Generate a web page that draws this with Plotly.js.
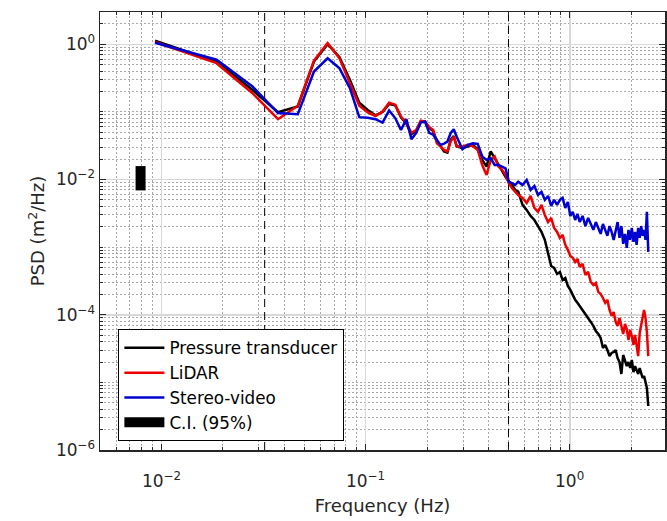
<!DOCTYPE html>
<html>
<head>
<meta charset="utf-8">
<script src="https://cdn.plot.ly/plotly-3.0.1.min.js"></script>
<style>html,body{margin:0;padding:0;background:#fff;}#chart{width:667px;height:521px;}</style>
</head>
<body>
<div id="chart"></div>
<script>
// Frequency (Hz)
const freq = [
  0.0093, 0.0186, 0.0279, 0.0372, 0.0465, 0.0558, 0.0651, 0.0744, 0.0837, 0.093,
  0.1023, 0.1116, 0.1209, 0.1302, 0.1395, 0.1488, 0.1581, 0.1674, 0.1767, 0.186,
  0.1953, 0.2046, 0.2139, 0.2232, 0.2325, 0.2418, 0.2511, 0.2604, 0.2697, 0.279,
  0.2976, 0.3162, 0.3348, 0.3534, 0.372, 0.3906, 0.4092, 0.4278, 0.4464, 0.465,
  0.4836, 0.5022, 0.5208, 0.5394, 0.558,
  0.5859, 0.6138, 0.6417, 0.6696, 0.6975, 0.7254, 0.7533, 0.7812, 0.8091, 0.837,
  0.8649, 0.8928, 0.9207, 0.9486, 0.9765, 1.0044, 1.0323, 1.0602, 1.0881, 1.116,
  1.1532, 1.1904, 1.2276, 1.2648, 1.302, 1.3392, 1.3764, 1.4136, 1.4508, 1.488,
  1.5252, 1.5624, 1.5996, 1.6368, 1.674, 1.7112, 1.7484, 1.7856, 1.8228, 1.86,
  1.8972, 1.9344, 1.9716, 2.0088, 2.046, 2.0832, 2.1204, 2.1576, 2.1948, 2.232,
  2.2692, 2.3064, 2.3436, 2.3808, 2.418
];

// PSD (m^2/Hz)
const pressure = [
  1.13, 0.555, 0.211, 0.099, 0.12, 0.555, 1.0, 0.645, 0.297, 0.137,
  0.107, 0.089, 0.100, 0.131, 0.125, 0.083, 0.067, 0.047, 0.053, 0.072,
  0.071, 0.058, 0.052, 0.036, 0.031, 0.026, 0.025, 0.0385, 0.044, 0.031,
  0.029, 0.031, 0.0325, 0.028, 0.0195, 0.0155, 0.026, 0.0207, 0.0165, 0.0139,
  0.011, 0.0093, 0.0083, 0.007, 0.0066,
  0.00421, 0.00355, 0.00289, 0.00252, 0.00205, 0.00168, 0.00128, 0.000767, 0.000527, 0.000493,
  0.000401, 0.00043, 0.000327, 0.00035, 0.000267, 0.000233, 0.00019, 0.000166, 0.00015, 0.000135,
  0.000118, 0.000103, 8.98e-5, 7.83e-5, 6.83e-5, 5.76e-5, 5.2e-5, 4.54e-5, 3.23e-5, 3.58e-5,
  3.01e-5, 2.45e-5, 2.72e-5, 2.81e-5, 3.01e-5, 2.29e-5, 2.0e-5, 1.33e-5, 2.54e-5, 2.14e-5,
  1.74e-5, 2.0e-5, 1.63e-5, 2.14e-5, 1.42e-5, 1.74e-5, 1.52e-5, 1.33e-5, 1.63e-5, 1.42e-5,
  1.16e-5, 1.24e-5, 9.5e-6, 8.3e-6, 4.47e-6
];

const lidar = [
  1.08, 0.525, 0.189, 0.078, 0.123, 0.574, 1.04, 0.62, 0.266, 0.123,
  0.098, 0.087, 0.101, 0.137, 0.127, 0.085, 0.068, 0.049, 0.054, 0.074,
  0.072, 0.060, 0.054, 0.0344, 0.0308, 0.0274, 0.026, 0.0364, 0.043, 0.0308,
  0.0308, 0.0325, 0.031, 0.0274, 0.0164, 0.0117, 0.0195, 0.0219, 0.0155, 0.0139,
  0.0117, 0.0088, 0.0074, 0.0066, 0.0059,
  0.00534, 0.0045, 0.00572, 0.0038, 0.00332, 0.00421, 0.00299, 0.00235, 0.0027, 0.00192,
  0.00168, 0.00137, 0.00152, 0.00108, 0.00091, 0.000742, 0.000693, 0.000604, 0.00067, 0.00051,
  0.000565, 0.000388, 0.00043, 0.000305, 0.000276, 0.000295, 0.000218, 0.000203, 0.000177, 0.00015,
  0.000166, 0.000118, 9.6e-5, 0.00011, 7.83e-5, 6.83e-5, 8.98e-5, 6.38e-5, 5.2e-5, 7.31e-5,
  6.17e-5, 4.24e-5, 5.96e-5, 4.86e-5, 3.58e-5, 5.03e-5, 3.7e-5, 2.45e-5, 5.38e-5, 7.07e-5,
  9.6e-5, 0.000118, 8.98e-5, 5.57e-5, 2.45e-5
];

const stereo = [
  1.05, 0.59, 0.237, 0.096, 0.0925, 0.395, 0.62, 0.44, 0.224, 0.0835,
  0.082, 0.078, 0.0695, 0.105, 0.081, 0.054, 0.078, 0.0395, 0.049, 0.0695,
  0.072, 0.049, 0.046, 0.0385, 0.0325, 0.034, 0.0364, 0.0484, 0.0555, 0.043,
  0.028, 0.0325, 0.0343, 0.0336, 0.0219, 0.0195, 0.0206, 0.0164, 0.0164, 0.0155,
  0.0146, 0.0093, 0.0088, 0.0083, 0.0093,
  0.00831, 0.00986, 0.00702, 0.00804, 0.00592, 0.00656, 0.00499, 0.00572, 0.00407, 0.00499,
  0.00421, 0.00499, 0.00534, 0.0038, 0.00466, 0.00289, 0.00332, 0.00252, 0.0031, 0.00235,
  0.00289, 0.00205, 0.0027, 0.0022, 0.0018, 0.00235, 0.00192, 0.00157, 0.0022, 0.0018,
  0.00147, 0.00205, 0.00168, 0.00128, 0.0018, 0.00235, 0.00137, 0.00205, 0.00112, 0.00157,
  0.000974, 0.0018, 0.00128, 0.00192, 0.0012, 0.00168, 0.00108, 0.00192, 0.00137, 0.00205,
  0.00147, 0.0018, 0.00128, 0.00332, 0.00085
];

// Confidence interval bar
const ciFreq = [0.0079, 0.0079];
const ciBounds = [0.0069, 0.0158];

// Vertical dashed reference frequencies (Hz)
const cutoffFreqs = [0.032, 0.5];

// Axes
const xRange = [0.005, 2.92];
const yRange = [1e-6, 3];
const xTickVals = [0.01, 0.1, 1];
const xTickText = ['10<sup>\u22122</sup>', '10<sup>\u22121</sup>', '10<sup>0</sup>'];
const yTickVals = [1e-6, 1e-4, 1e-2, 1];
const yTickText = ['10<sup>\u22126</sup>', '10<sup>\u22124</sup>', '10<sup>\u22122</sup>', '10<sup>0</sup>'];

const FONT = 'DejaVu Sans, sans-serif';
const AX = '#262626';

const traces = [];
cutoffFreqs.forEach(f => {
  traces.push({
    x: [f, f], y: yRange, mode: 'lines', showlegend: false, hoverinfo: 'skip',
    line: {color: '#000', width: 1, dash: '8px,5px'}
  });
});
traces.push({x: freq, y: pressure, mode: 'lines', name: 'Pressure transducer', line: {color: '#000000', width: 2.5}});
traces.push({x: freq, y: lidar, mode: 'lines', name: 'LiDAR', line: {color: '#ee0000', width: 2.5}});
traces.push({x: freq, y: stereo, mode: 'lines', name: 'Stereo-video', line: {color: '#0000d0', width: 2.5}});
traces.push({x: ciFreq, y: ciBounds, mode: 'lines', name: 'C.I. (95%)', line: {color: '#000000', width: 10}});

const minorGrid = {ticks: 'inside', ticklen: 3, tickcolor: AX,
                   showgrid: true, gridcolor: '#a8a8a8', griddash: '1.5px,2.5px', gridwidth: 1};

// x tick labels placed a little further below the axis, as in the reference
const xLabelAnnotations = xTickVals.map((v, i) => ({
  x: Math.log10(v), xref: 'x', y: 0, yref: 'paper',
  yanchor: 'top', xanchor: 'center', yshift: -17,
  text: xTickText[i], showarrow: false,
  font: {family: FONT, size: 17, color: AX}
}));

const layout = {
  width: 667, height: 521,
  margin: {l: 100, r: 2, t: 12, b: 71, pad: 0},
  paper_bgcolor: '#fff', plot_bgcolor: '#fff',
  font: {family: FONT, color: AX, size: 16},
  showlegend: true,
  legend: {
    x: 0.032, y: 0.276, xanchor: 'left', yanchor: 'top',
    bgcolor: '#fff', bordercolor: '#000', borderwidth: 1.3,
    font: {family: FONT, size: 16.8, color: '#000'},
    itemwidth: 40, tracegroupgap: 0
  },
  annotations: xLabelAnnotations,
  xaxis: {
    type: 'log', range: [Math.log10(xRange[0]), Math.log10(xRange[1])],
    tickmode: 'array', tickvals: xTickVals, ticktext: xTickText, showticklabels: false,
    ticks: 'inside', ticklen: 6, tickwidth: 1, tickcolor: AX,
    showline: true, linecolor: AX, linewidth: 1.5, mirror: 'allticks',
    showgrid: true, gridcolor: '#d8d8d8', gridwidth: 1.5,
    zeroline: false,
    minor: Object.assign({tickmode: 'linear', dtick: 'D1'}, minorGrid),
    title: {text: 'Frequency (Hz)', font: {family: FONT, size: 18, color: AX}, standoff: 49}
  },
  yaxis: {
    type: 'log', range: [Math.log10(yRange[0]), Math.log10(yRange[1])],
    tickmode: 'array', tickvals: yTickVals, ticktext: yTickText,
    ticks: 'inside', ticklen: 6, tickwidth: 1, tickcolor: AX,
    showline: true, linecolor: AX, linewidth: 1.5, mirror: 'allticks',
    showgrid: true, gridcolor: '#d8d8d8', gridwidth: 1.5,
    zeroline: false,
    tickfont: {family: FONT, size: 17, color: AX},
    minor: Object.assign({tickmode: 'linear', dtick: 'D1'}, minorGrid),
    title: {text: 'PSD (m<sup>2</sup>/Hz)', font: {family: FONT, size: 18, color: AX}, standoff: 6}
  }
};

Plotly.newPlot('chart', traces, layout, {displayModeBar: false, staticPlot: true});
</script>
</body>
</html>
